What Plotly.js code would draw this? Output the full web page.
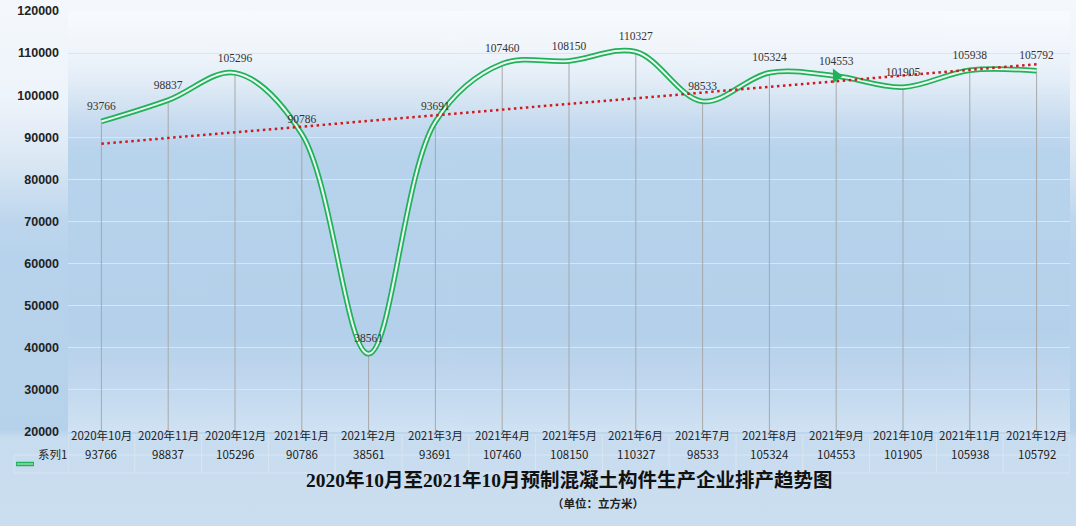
<!DOCTYPE html>
<html>
<head>
<meta charset="utf-8">
<script src="https://cdn.plot.ly/plotly-3.0.1.min.js"></script>
<style>
  body { margin: 0; background: #ffffff; }
  #chart {
    width: 1080px; height: 530px;
    background-color: #ffffff;
    background-image: linear-gradient(to bottom, #f4f8fc 0px, #edf3fa 100px, #dbe8f4 160px, #bdd6ed 220px, #b6d2ec 260px, #b6d2eb 430px, #c8dcef 438px, #cbdef0 526px);
    background-size: 1076px 526px;
    background-repeat: no-repeat;
  }
</style>
</head>
<body>
<div id="chart"></div>
<script>
// 数据
var categories = ['2020年10月', '2020年11月', '2020年12月', '2021年1月', '2021年2月', '2021年3月', '2021年4月', '2021年5月',
  '2021年6月', '2021年7月', '2021年8月', '2021年9月', '2021年10月', '2021年11月', '2021年12月'];
var values = [93766, 98837, 105296, 90786, 38561, 93691, 107460, 108150, 110327, 98533, 105324, 104553, 101905, 105938, 105792];
var seriesName = '系列1';
var yMin = 20000, yMax = 120000;

var green = '#1fb25a';
var plotTop = 11, plotBottom = 432, plotLeft = 68, plotWidth = 1002;

// pixel -> paper helpers
function py(p) { return (plotBottom - p) / (plotBottom - plotTop); }
function px(p) { return (p - plotLeft) / plotWidth; }

// linear trend line (like Excel)
var n = values.length;
var mx = (n - 1) / 2;
var my = values.reduce(function (a, b) { return a + b; }, 0) / n;
var sxy = 0, sxx = 0;
values.forEach(function (v, i) { sxy += (i - mx) * (v - my); sxx += (i - mx) * (i - mx); });
var slope = sxy / sxx;
var trendY = [my - slope * mx, my + slope * (n - 1 - mx)];

// plot area gradient
var cv = document.createElement('canvas');
cv.width = 4; cv.height = 421;
var ctx = cv.getContext('2d');
var g = ctx.createLinearGradient(0, 0, 0, 421);
g.addColorStop(0, '#f8fbfe');
g.addColorStop(0.09, '#f0f5fb');
g.addColorStop(0.16, '#e4eef8');
g.addColorStop(0.21, '#d6e5f3');
g.addColorStop(0.26, '#c8dcf0');
g.addColorStop(0.33, '#b8d3ec');
g.addColorStop(0.76, '#b4d0ea');
g.addColorStop(0.88, '#c0d7ee');
g.addColorStop(1, '#d0e2f3');
ctx.fillStyle = g;
ctx.fillRect(0, 0, 4, 421);
var bgImg = cv.toDataURL();

var drops = {
  x: categories, y: values, mode: 'markers', marker: { opacity: 0 },
  error_y: {
    type: 'data', symmetric: false,
    array: values.map(function () { return 0; }),
    arrayminus: values.map(function (v) { return v - yMin; }),
    width: 0, color: '#a8a8a8', thickness: 1
  },
  hoverinfo: 'skip'
};
var outer = {
  x: categories, y: values, mode: 'lines',
  line: { shape: 'spline', smoothing: 1, color: green, width: 5.5 }
};
var inner = {
  x: categories, y: values, mode: 'lines',
  line: { shape: 'spline', smoothing: 1, color: '#eef8f1', width: 2 },
  hoverinfo: 'skip'
};
var trend = {
  x: [categories[0], categories[n - 1]], y: trendY, mode: 'lines',
  line: { color: '#d0191c', width: 2.5, dash: '2.5px,3.5px' }
};
var labels = {
  x: categories, y: values, mode: 'markers+text',
  marker: { size: 12, opacity: 0 },
  text: values.map(String), textposition: 'top center',
  textfont: { family: 'Liberation Serif, serif', size: 11.5, color: '#333333' },
  hoverinfo: 'skip'
};
var arrow = {
  x: [categories[11]], y: [values[11]], mode: 'markers',
  marker: { symbol: 'triangle-right', size: 13, color: green }
};

var annotations = [];
categories.forEach(function (c, i) {
  annotations.push({ x: c, y: py(445), xref: 'x', yref: 'paper', text: c, showarrow: false,
    font: { family: 'Noto Sans CJK SC', size: 11.5, color: '#222222' } });
  annotations.push({ x: c, y: py(464), xref: 'x', yref: 'paper', text: String(values[i]), showarrow: false,
    font: { family: 'Noto Sans CJK SC', size: 11.5, color: '#222222' } });
});
annotations.push({ x: px(36), y: py(464), xref: 'paper', yref: 'paper', xanchor: 'left', text: seriesName,
  showarrow: false, font: { family: 'Noto Sans CJK SC', size: 11.5, color: '#222222' } });
annotations.push({ x: 0.5, y: py(493), xref: 'paper', yref: 'paper',
  text: '<b>2020年10月至2021年10月预制混凝土构件生产企业排产趋势图</b>', showarrow: false,
  font: { family: 'Liberation Serif, Noto Sans CJK SC', size: 19.5, color: '#111111' } });
annotations.push({ x: px(598), y: py(512), xref: 'paper', yref: 'paper',
  text: '<b>（单位：立方米）</b>', showarrow: false,
  font: { family: 'Liberation Serif, Noto Sans CJK SC', size: 11.5, color: '#222222' } });

var lineCol = '#d9e5f1';
var shapes = [];
shapes.push({ type: 'line', xref: 'paper', yref: 'paper', x0: 0, x1: 1, y0: py(435), y1: py(435), line: { color: lineCol, width: 1 } });
[455, 473].forEach(function (p) {
  shapes.push({ type: 'line', xref: 'paper', yref: 'paper', x0: px(14), x1: 1, y0: py(p), y1: py(p), line: { color: lineCol, width: 1 } });
});
for (var k = 0; k <= n; k++) {
  shapes.push({ type: 'line', xref: 'x', yref: 'paper', x0: k - 0.5, x1: k - 0.5, y0: py(435), y1: py(473), line: { color: lineCol, width: 1 } });
}
shapes.push({ type: 'line', xref: 'paper', yref: 'paper', x0: px(14), x1: px(14), y0: py(455), y1: py(473), line: { color: lineCol, width: 1 } });
// legend key
shapes.push({ type: 'line', xref: 'paper', yref: 'paper', x0: px(16), x1: px(34), y0: py(464), y1: py(464), line: { color: green, width: 4.5 } });
shapes.push({ type: 'line', xref: 'paper', yref: 'paper', x0: px(17), x1: px(33), y0: py(464), y1: py(464), line: { color: '#8fdcae', width: 1.5 } });

var layout = {
  width: 1080, height: 530,
  margin: { l: 68, r: 10, t: 11, b: 98 },
  paper_bgcolor: 'rgba(0,0,0,0)',
  plot_bgcolor: 'rgba(0,0,0,0)',
  showlegend: false,
  xaxis: {
    type: 'category', categoryarray: categories, range: [-0.5, n - 0.5],
    showgrid: false, zeroline: false, showticklabels: false, showline: false, fixedrange: true
  },
  yaxis: {
    range: [yMin, yMax], dtick: 10000, tick0: 0, tickformat: 'd',
    gridcolor: '#dde4ec', gridwidth: 1, zeroline: false, showline: false,
    ticks: '', ticklabelstandoff: 8,
    tickfont: { family: 'Liberation Sans, Arial', size: 12.5, color: '#222222', weight: 700 },
    fixedrange: true
  },
  images: [{ source: bgImg, xref: 'paper', yref: 'paper', x: 0, y: 1, sizex: 1, sizey: 1,
    sizing: 'stretch', layer: 'below' }],
  annotations: annotations,
  shapes: shapes
};

Plotly.newPlot('chart', [drops, outer, inner, trend, labels, arrow], layout, { displayModeBar: false, staticPlot: true });
</script>
</body>
</html>
